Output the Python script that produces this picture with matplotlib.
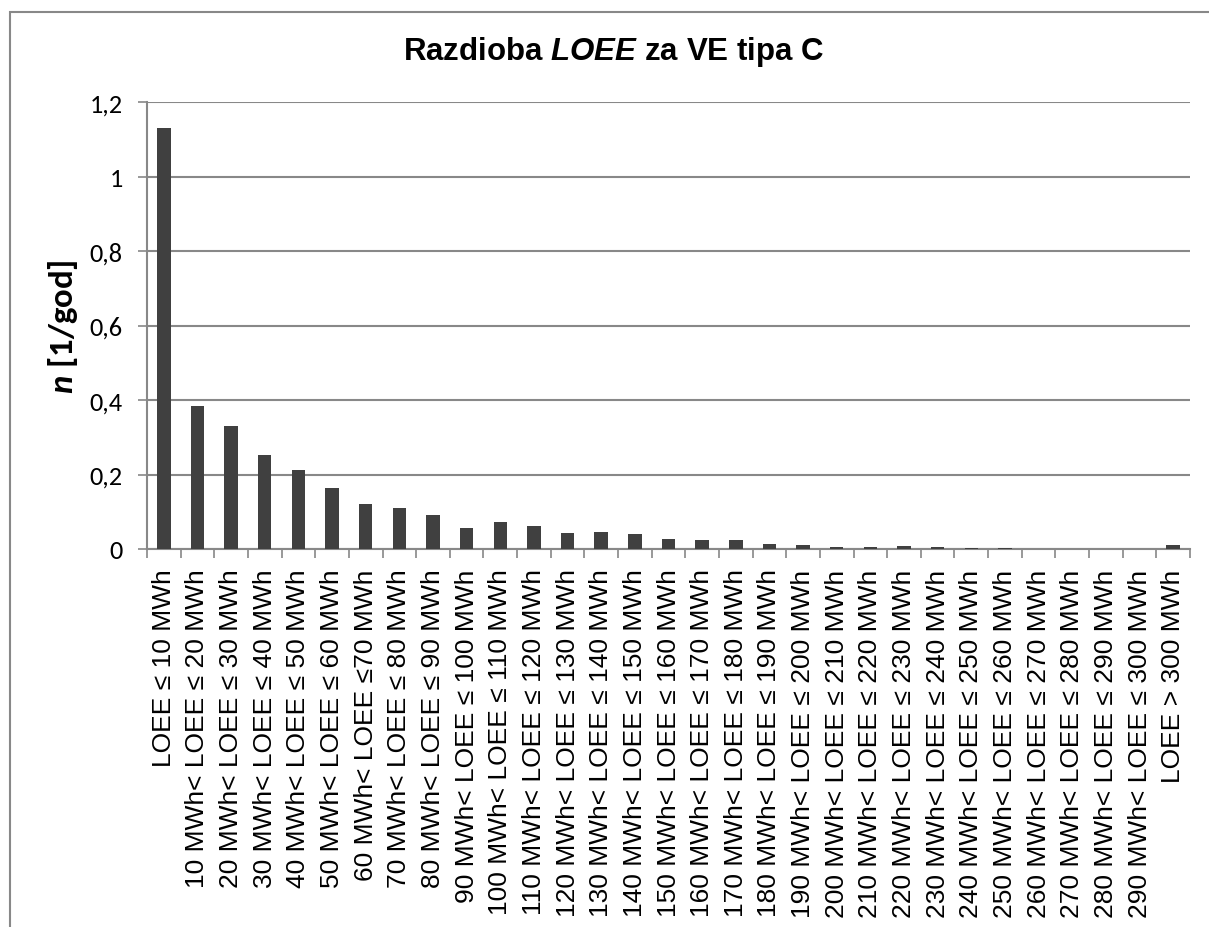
import matplotlib
matplotlib.use("Agg")
import matplotlib.pyplot as plt
from matplotlib.patches import Rectangle
from matplotlib.ticker import FixedLocator, FuncFormatter

categories = [
    "LOEE ≤ 10 MWh",
    "10 MWh< LOEE ≤ 20 MWh",
    "20 MWh< LOEE ≤ 30 MWh",
    "30 MWh< LOEE ≤ 40 MWh",
    "40 MWh< LOEE ≤ 50 MWh",
    "50 MWh< LOEE ≤ 60 MWh",
    "60 MWh< LOEE ≤70 MWh",
    "70 MWh< LOEE ≤ 80 MWh",
    "80 MWh< LOEE ≤ 90 MWh",
    "90 MWh< LOEE ≤ 100 MWh",
    "100 MWh< LOEE ≤ 110 MWh",
    "110 MWh< LOEE ≤ 120 MWh",
    "120 MWh< LOEE ≤ 130 MWh",
    "130 MWh< LOEE ≤ 140 MWh",
    "140 MWh< LOEE ≤ 150 MWh",
    "150 MWh< LOEE ≤ 160 MWh",
    "160 MWh< LOEE ≤ 170 MWh",
    "170 MWh< LOEE ≤ 180 MWh",
    "180 MWh< LOEE ≤ 190 MWh",
    "190 MWh< LOEE ≤ 200 MWh",
    "200 MWh< LOEE ≤ 210 MWh",
    "210 MWh< LOEE ≤ 220 MWh",
    "220 MWh< LOEE ≤ 230 MWh",
    "230 MWh< LOEE ≤ 240 MWh",
    "240 MWh< LOEE ≤ 250 MWh",
    "250 MWh< LOEE ≤ 260 MWh",
    "260 MWh< LOEE ≤ 270 MWh",
    "270 MWh< LOEE ≤ 280 MWh",
    "280 MWh< LOEE ≤ 290 MWh",
    "290 MWh< LOEE ≤ 300 MWh",
    "LOEE > 300 MWh",
]

values = [1.131, 0.385, 0.330, 0.253, 0.211, 0.163, 0.122, 0.110, 0.092, 0.056,
          0.072, 0.063, 0.044, 0.046, 0.040, 0.027, 0.023, 0.023, 0.014, 0.010,
          0.005, 0.006, 0.008, 0.006, 0.004, 0.003, 0.0, 0.001, 0.0, 0.0, 0.011]

y_ticks = [0, 0.2, 0.4, 0.6, 0.8, 1.0, 1.2]

title_text = r"Razdioba $\mathit{LOEE}$ za VE tipa C"
ylabel_text = r"$\mathbf{n}$ [1/god]"

plt.rcParams["mathtext.fontset"] = "custom"
plt.rcParams["mathtext.rm"] = "Liberation Sans:bold"
plt.rcParams["mathtext.it"] = "Liberation Sans:bold:italic"
plt.rcParams["mathtext.bf"] = "Carlito:bold:italic"

W, H = 1209, 928
fig = plt.figure(figsize=(W / 100, H / 100), dpi=100)
fig.patch.set_facecolor("white")

left, right, top, bottom = 147, 1190, 103, 550
ax = fig.add_axes([left / W, 1 - bottom / H, (right - left) / W, (bottom - top) / H])

grid_c = "#888888"
x = list(range(len(categories)))
ax.bar(x, values, width=0.4, color="#404040", zorder=3)

ax.set_xlim(-0.5, len(categories) - 0.5)
ax.set_ylim(0, 1.2)
ax.set_yticks(y_ticks)
ax.yaxis.set_major_formatter(FuncFormatter(
    lambda v, p: ("%g" % round(v, 1)).replace(".", ",")))
ax.grid(axis="y", color=grid_c, linewidth=1.5, zorder=0)
ax.set_axisbelow(True)

for s in ["top", "right"]:
    ax.spines[s].set_visible(False)
for s in ["left", "bottom"]:
    ax.spines[s].set_color(grid_c)
    ax.spines[s].set_linewidth(1.5)

ax.tick_params(axis="y", direction="out", length=6.5, width=1.2, color=grid_c,
               pad=11, labelsize=19, labelcolor="black")
for lab in ax.get_yticklabels():
    lab.set_fontfamily("Carlito")

ax.set_xticks(x)
ax.set_xticklabels(categories, rotation=90, ha="center", va="top",
                   fontsize=19, family=["Liberation Sans", "DejaVu Sans"])
ax.tick_params(axis="x", which="major", length=0, pad=14)
ax.xaxis.set_minor_locator(FixedLocator([i - 0.5 for i in range(len(categories) + 1)]))
ax.tick_params(axis="x", which="minor", direction="out", length=6.5, width=1.2,
               color=grid_c)

fig.text(614 / W, 1 - 52 / H, title_text, ha="center", va="center",
         fontsize=22.5, fontweight="bold", family="Liberation Sans")
fig.text(63 / W, 1 - 327 / H, ylabel_text, ha="center", va="center",
         rotation=90, fontsize=25, fontweight="bold", family="Carlito")

frame = Rectangle((10 / W, -0.05), 1.2, (H - 13) / H + 0.05,
                  transform=fig.transFigure, fill=False, edgecolor=grid_c,
                  linewidth=1.5, clip_on=False)
fig.add_artist(frame)

fig.savefig("out.png", dpi=100, facecolor="white")
